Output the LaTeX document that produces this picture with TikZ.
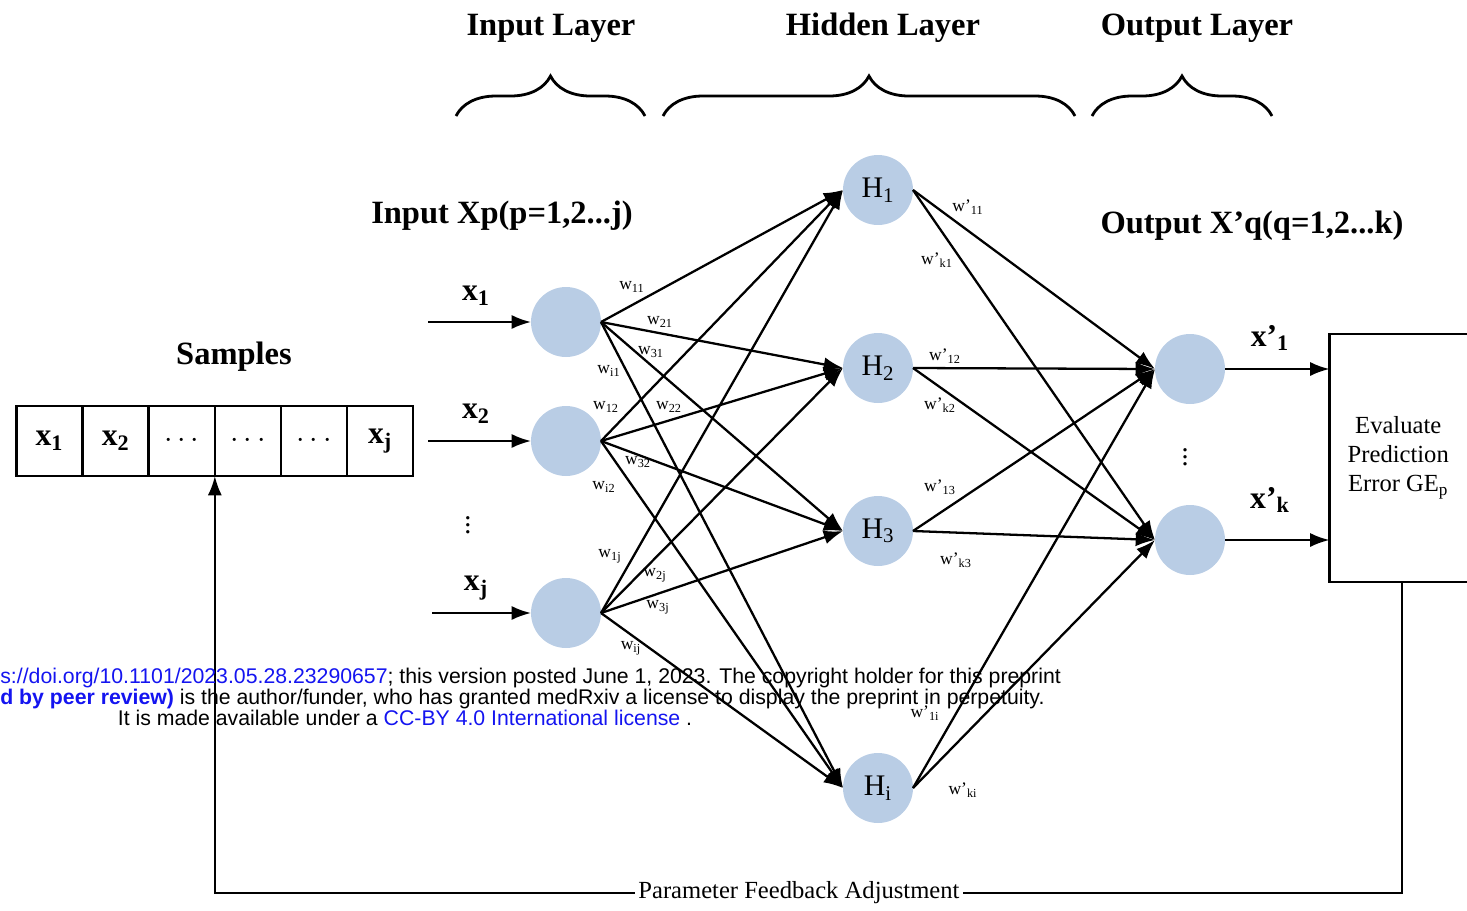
\documentclass[tikz,border=0pt]{standalone}
\usepackage{fontspec}
\setmainfont{Liberation Serif}
\newfontfamily\wmfont{Liberation Sans}
\usetikzlibrary{decorations.pathreplacing,shapes,arrows,arrows.meta,positioning}

\definecolor{neuronblue}{RGB}{185,205,229}
\definecolor{linkblue}{RGB}{20,20,240}

\tikzset{
  neuron/.style={circle, fill=neuronblue, minimum size=1.4cm, inner sep=0pt, outer sep=0pt,
    font=\fontsize{17}{19}\selectfont},
  conn/.style={-{Latex[length=11pt,width=8pt]}, line width=1.3pt},
  title/.style={font=\fontsize{18.5}{21}\selectfont\bfseries},
  xlab/.style={font=\fontsize{18}{20}\selectfont\bfseries},
  wlab/.style={font=\fontsize{10}{11}\selectfont, inner sep=0pt},
  cell/.style={draw, line width=1.4pt, minimum width=1.323cm, minimum height=1.4cm,
    inner sep=0pt, outer sep=0pt, font=\fontsize{18}{20}\selectfont\bfseries},
  brc/.style={decorate, decoration={brace, amplitude=0.8cm}, line width=1.6pt},
  wm/.style={font=\wmfont\fontsize{12.1}{14}\selectfont, inner sep=0pt}
}

\begin{document}
\begin{tikzpicture}[x=0.02cm, y=-0.02cm]
\useasboundingbox (0,0) rectangle (1467,910);

% layer titles and braces
\node[title] (tin) at (551,28) {Input Layer};
\node[title] (thid) at (883,28) {Hidden Layer};
\node[title] (tout) at (1197,28) {Output Layer};
\draw[brc] (456,116) -- (645,116);
\draw[brc] (663,116) -- (1075,116);
\draw[brc] (1092,116) -- (1272,116);

\node[title] (inlab) at (502,216) {Input Xp(p=1,2...j)};
\node[title] (outlab) at (1252,226) {Output X’q(q=1,2...k)};

% neurons
\node[neuron] (in1) at (566,322) {};
\node[neuron] (in2) at (566,441) {};
\node[neuron] (inj) at (566,613) {};
\node[neuron] (h1) at (878,190) {H\textsubscript{1}};
\node[neuron] (h2) at (878,368) {H\textsubscript{2}};
\node[neuron] (h3) at (878,531) {H\textsubscript{3}};
\node[neuron] (hi) at (878,788) {H\textsubscript{i}};
\node[neuron] (o1) at (1190,369) {};
\node[neuron] (ok) at (1190,540) {};
\node[inner sep=0pt] (vin) at (468,520) {\fontsize{16}{18}\selectfont$\vdots$};
\node[inner sep=0pt] (vout) at (1185,452) {\fontsize{16}{18}\selectfont$\vdots$};

% connections
\foreach \i in {in1,in2,inj}
  \foreach \h in {h1,h2,h3,hi}
    \draw[conn] (\i.east) -- (\h.west);
\foreach \h in {h1,h2,h3,hi}
  \foreach \o in {o1,ok}
    \draw[conn] (\h.east) -- (\o.west);

% inputs
\coordinate (s1) at (428,322);
\coordinate (s2) at (428,441);
\coordinate (sj) at (432,613);
\draw[conn] (s1) -- (in1.west);
\draw[conn] (s2) -- (in2.west);
\draw[conn] (sj) -- (inj.west);
\node[xlab] (lx1) at (476,296) {x\textsubscript{1}};
\node[xlab] (lx2) at (476,414) {x\textsubscript{2}};
\node[xlab] (lxj) at (476,588) {x\textsubscript{j}};

% weights
\node[wlab] (w11) at (632,287) {w\textsubscript{11}};
\node[wlab] (w21) at (660,322) {w\textsubscript{21}};
\node[wlab] (w31) at (651,352) {w\textsubscript{31}};
\node[wlab] (wi1) at (609,371) {w\textsubscript{i1}};
\node[wlab] (w12) at (606,407) {w\textsubscript{12}};
\node[wlab] (w22) at (669,407) {w\textsubscript{22}};
\node[wlab] (w32) at (638,462) {w\textsubscript{32}};
\node[wlab] (wi2) at (604,487) {w\textsubscript{i2}};
\node[wlab] (w1j) at (610,556) {w\textsubscript{1j}};
\node[wlab] (w2j) at (655,575) {w\textsubscript{2j}};
\node[wlab] (w3j) at (658,607) {w\textsubscript{3j}};
\node[wlab] (wij) at (631,648) {w\textsubscript{ij}};
\node[wlab] (v11) at (968,207) {w'\textsubscript{11}};
\node[wlab] (vk1) at (937,260) {w'\textsubscript{k1}};
\node[wlab] (v12) at (945,356) {w'\textsubscript{12}};
\node[wlab] (vk2) at (940,405) {w'\textsubscript{k2}};
\node[wlab] (v13) at (940,487) {w'\textsubscript{13}};
\node[wlab] (vk3) at (956,560) {w'\textsubscript{k3}};
\node[wlab] (v1i) at (925,713) {w'\textsubscript{1i}};
\node[wlab] (vki) at (963,790) {w'\textsubscript{ki}};

% evaluation box and outputs
\node[draw, line width=1.4pt, minimum width=2.9cm, minimum height=4.96cm, outer sep=0pt,
  align=center, font=\fontsize{14}{16.5}\selectfont] (eval) at (1402,458)
  {\hspace*{-0.15cm}Evaluate\\\hspace*{-0.15cm}Prediction\\\hspace*{-0.15cm}Error GE\textsubscript{p}};
\draw[conn] (o1.east) -- (o1.east -| eval.west);
\draw[conn] (ok.east) -- (ok.east -| eval.west);
\node[xlab] (lo1) at (1270,338) {x'\textsubscript{1}};
\node[xlab] (lok) at (1270,500) {x'\textsubscript{k}};

% samples
\node[title] (samp) at (234,357) {Samples};
\node[cell] (c1) at (49.5,441) {x\textsubscript{1}};
\node[cell, right=0pt of c1] (c2) {x\textsubscript{2}};
\node[cell, right=0pt of c2] (c3) {$\cdots$};
\node[cell, right=0pt of c3] (c4) {$\cdots$};
\node[cell, right=0pt of c4] (c5) {$\cdots$};
\node[cell, right=0pt of c5] (c6) {x\textsubscript{j}};

% feedback
\draw[conn] (eval.south) -- (eval.south |- 0,893) -- node[pos=0.508, fill=white, inner sep=2pt,
  font=\fontsize{14}{15}\selectfont] (fb) {Parameter Feedback Adjustment}
  (c3.south east |- 0,893) -- (c3.south east);

% preprint note
\node[wm, anchor=base west] (wm1) at (0,683) {\textcolor{linkblue}{s://doi.org/10.1101/2023.05.28.23290657}; this version posted June 1, 2023. The copyright holder for this preprint};
\node[wm, anchor=base west] (wm2) at (0,704) {\textcolor{linkblue}{\bfseries d by peer review)} is the author/funder, who has granted medRxiv a license to display the preprint in perpetuity.};
\node[wm, anchor=base] (wm3) at (405,725) {It is made available under a \textcolor{linkblue}{CC-BY 4.0 International license} .};
\end{tikzpicture}
\end{document}
